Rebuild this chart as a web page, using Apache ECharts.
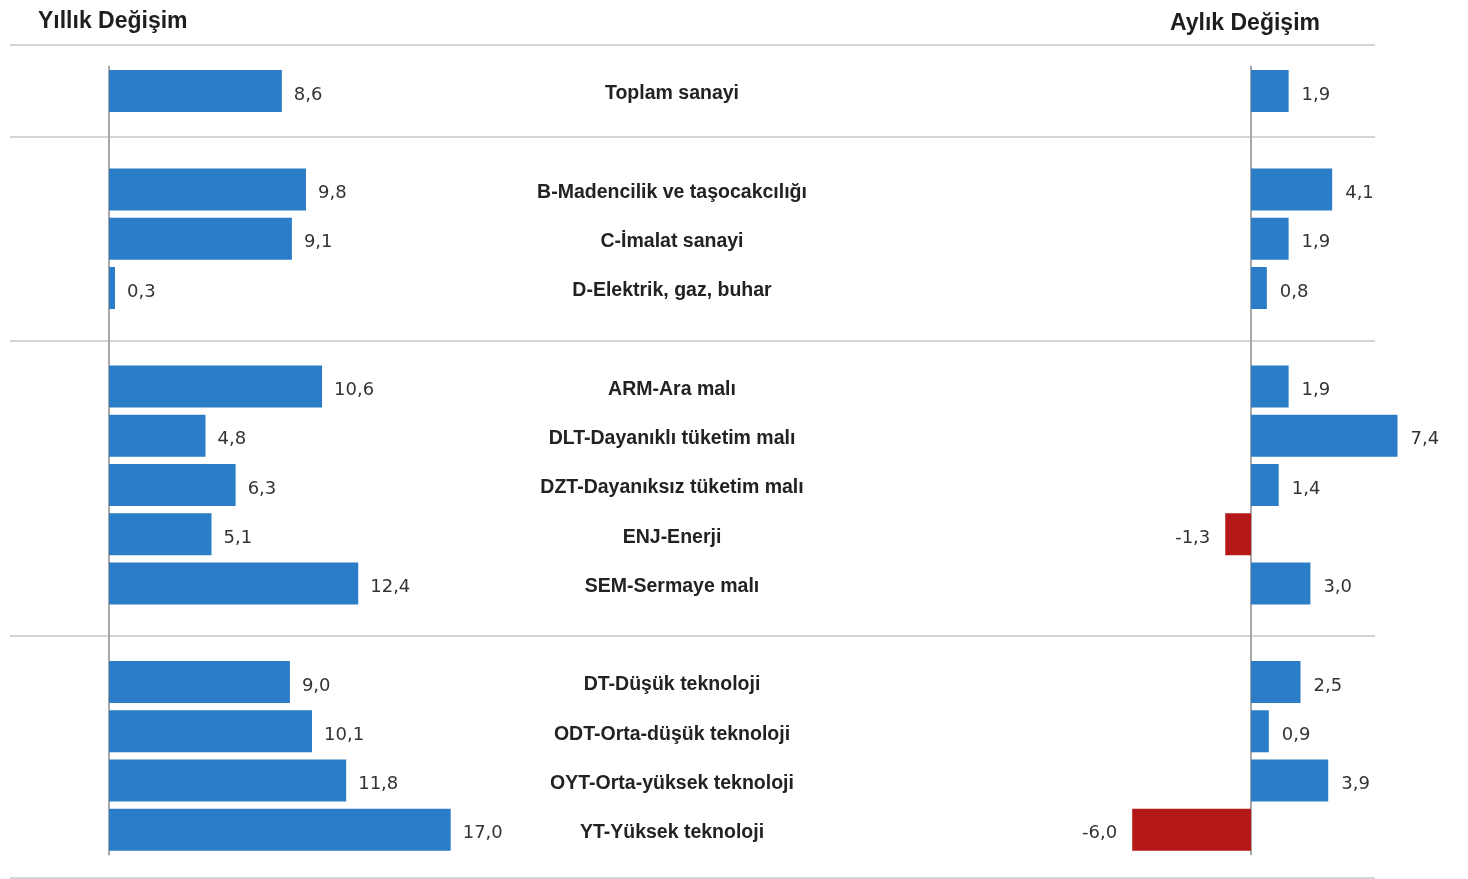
<!DOCTYPE html>
<html><head><meta charset="utf-8">
<script src="https://cdn.jsdelivr.net/npm/echarts@6/dist/echarts.min.js"></script>
<style>html,body{margin:0;padding:0;background:#fff}#c{width:1468px;height:879px}</style>
</head><body><div id="c"></div>
<script>
const categories = ['Toplam sanayi','', 'B-Madencilik ve taşocakcılığı','C-İmalat sanayi','D-Elektrik, gaz, buhar','', 'ARM-Ara malı','DLT-Dayanıklı tüketim malı','DZT-Dayanıksız tüketim malı','ENJ-Enerji','SEM-Sermaye malı','', 'DT-Düşük teknoloji','ODT-Orta-düşük teknoloji','OYT-Orta-yüksek teknoloji','YT-Yüksek teknoloji'];
const yearly = [8.6,null,9.8,9.1,0.3,null,10.6,4.8,6.3,5.1,12.4,null,9.0,10.1,11.8,17.0];
const monthly = [1.9,null,4.1,1.9,0.8,null,1.9,7.4,1.4,-1.3,3.0,null,2.5,0.9,3.9,-6.0];
const titles = ['Yıllık Değişim','Aylık Değişim'];

const BLUE = '#2a7dc6', RED = '#b41818';
const fmt = v => v.toFixed(1).replace('.', ',');
const chart = echarts.init(document.getElementById('c'));
const gridTop = 66.4, gridH = 788;
const sepY = [45, 137, 341, 636, 878];

function barData(arr, ld) {
  return arr.map(v => v === null ? null : {
    value: v,
    itemStyle: { color: v < 0 ? RED : BLUE },
    label: { position: v < 0 ? 'left' : 'right', distance: v < 0 ? ld.neg : ld.pos }
  });
}
const labelStyle = { show: true, formatter: p => fmt(p.value), fontFamily: 'DejaVu Sans', fontSize: 18, color: '#333', offset: [0, 4] };

chart.setOption({
  animation: false,
  title: [
    { text: titles[0], left: 33, top: 5, textStyle: { fontFamily: 'Liberation Sans', fontWeight: 'bold', fontSize: 23, color: '#1e1e1e' } },
    { text: titles[1], left: 1165, top: 7, textStyle: { fontFamily: 'Liberation Sans', fontWeight: 'bold', fontSize: 23, color: '#1e1e1e' } }
  ],
  grid: [
    { left: 109, top: gridTop, width: 402, height: gridH },
    { left: 1112.4, top: gridTop, width: 336.6, height: gridH }
  ],
  xAxis: [
    { gridIndex: 0, type: 'value', min: 0, max: 20, show: false },
    { gridIndex: 1, type: 'value', min: -7, max: 10, show: false }
  ],
  yAxis: [
    { gridIndex: 0, type: 'category', data: categories, inverse: true,
      axisLine: { show: true, onZero: true, lineStyle: { color: '#a8a8a8', width: 2 } },
      axisTick: { show: false },
      axisLabel: { margin: -563, align: 'center',
        formatter: v => v ? '{c|' + v + '}' : '',
        rich: { c: { padding: [6, 0, 0, 0], fontFamily: 'Liberation Sans', fontWeight: 'bold', fontSize: 19.5, color: '#222' } } } },
    { gridIndex: 1, type: 'category', data: categories, inverse: true,
      axisLine: { show: true, onZero: true, lineStyle: { color: '#a8a8a8', width: 2 } },
      axisTick: { show: false }, axisLabel: { show: false } }
  ],
  series: [
    { type: 'bar', xAxisIndex: 0, yAxisIndex: 0, barWidth: 42, data: barData(yearly, { pos: 12, neg: 12 }), label: labelStyle },
    { type: 'bar', xAxisIndex: 1, yAxisIndex: 1, barWidth: 42, data: barData(monthly, { pos: 13, neg: 15 }), label: labelStyle }
  ],
  graphic: sepY.map(y => ({ type: 'line', shape: { x1: 10, y1: y, x2: 1375, y2: y }, style: { stroke: '#d4d4d4', lineWidth: 2 }, z: -1 }))
});
</script></body></html>
